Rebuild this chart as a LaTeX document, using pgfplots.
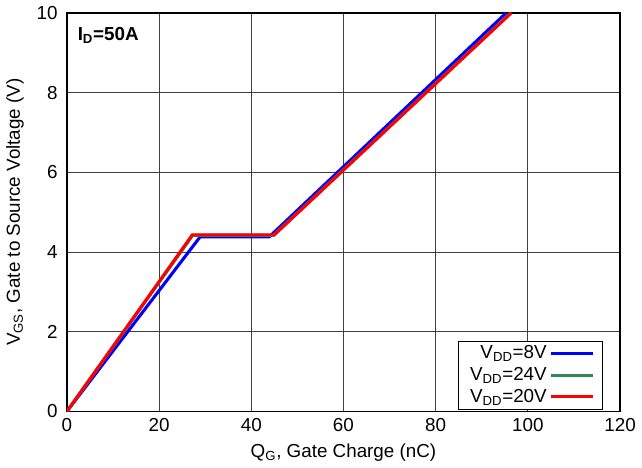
\documentclass[border=0pt]{standalone}
\usepackage{fontspec}
\setmainfont{Liberation Sans}
\usepackage{pgfplots}
\pgfplotsset{compat=1.18}
\definecolor{vblue}{RGB}{0,0,255}
\definecolor{vgreen}{RGB}{46,139,87}
\definecolor{vred}{RGB}{255,0,0}
\begin{document}
\fontsize{13.5}{16}\selectfont
\begin{tikzpicture}
\begin{axis}[
  scale only axis,
  width=397pt, height=286pt,
  xmin=0, xmax=120, ymin=0, ymax=10,
  xtick={0,20,...,120}, ytick={0,2,...,10},
  grid=major,
  major grid style={black!75, line width=0.6pt},
  axis line style={black, line width=1pt},
  tick style={draw=none},
  /pgf/number format/assume math mode=true,
  ticklabel style={font=\fontsize{13.5}{16}\selectfont},
  yticklabel style={xshift=-2pt},
  xlabel={Q\textsubscript{G}, Gate Charge (nC)},
  ylabel={V\textsubscript{GS}, Gate to Source Voltage (V)},
  label style={font=\fontsize{13.5}{16}\selectfont},
  legend cell align=right,
  legend plot pos=right,
  legend style={at={(0.969,0.005)}, anchor=south east, draw=black, line width=0.6pt, font=\fontsize{13.5}{16}\selectfont, row sep=0pt, inner xsep=6pt, inner ysep=1pt},
  legend image code/.code={\draw[#1, line width=2pt] (0pt,0pt) -- (30pt,0pt);},
]
\addplot[vblue, line width=2.2pt] coordinates {(0,0) (28.9,4.38) (43.9,4.38) (95.3,10)};
\addlegendentry{V\textsubscript{DD}=8V}
\addplot[vgreen, line width=2.2pt] coordinates {(0,0) (27.3,4.42) (44.8,4.42) (96.3,10)};
\addlegendentry{V\textsubscript{DD}=24V}
\addplot[vred, line width=2.2pt] coordinates {(0,0) (27.2,4.43) (45.0,4.43) (96.4,10)};
\addlegendentry{V\textsubscript{DD}=20V}
\node[anchor=north west, inner sep=0pt, font=\fontsize{13.5}{16}\selectfont\bfseries] at (axis cs:2.3,9.65) {I\textsubscript{D}=50A};
\end{axis}
\end{tikzpicture}
\end{document}
